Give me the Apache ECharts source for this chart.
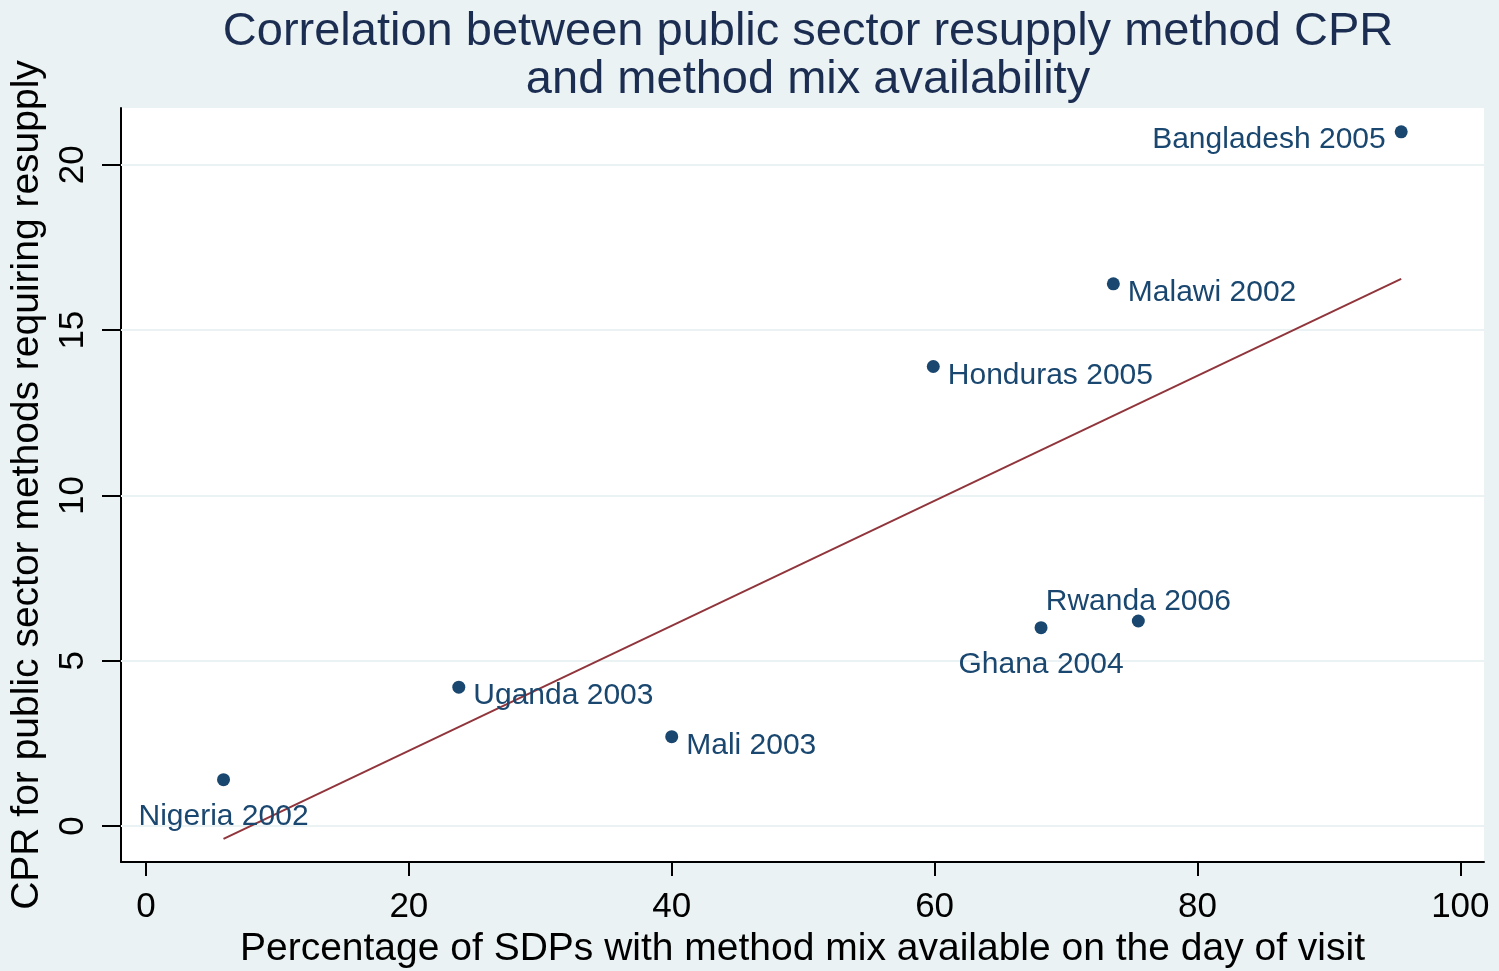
<!DOCTYPE html>
<html>
<head>
<meta charset="utf-8">
<script src="https://cdn.jsdelivr.net/npm/echarts@6/dist/echarts.min.js"></script>
<style>
  html, body { margin: 0; padding: 0; background: #eaf2f3; }
  #container { width: 1499px; height: 971px; }
</style>
</head>
<body>
<div id="container"></div>
<script>
var dom = document.getElementById("container");
var myChart = echarts.init(dom);

// survey points
var countries = ['Nigeria 2002', 'Uganda 2003', 'Mali 2003', 'Honduras 2005',
    'Ghana 2004', 'Rwanda 2006', 'Malawi 2002', 'Bangladesh 2005'];
var mixAvailable = [5.9, 23.8, 40.0, 59.9, 68.1, 75.5, 73.6, 95.5];
var cprResupply = [1.4, 4.2, 2.7, 13.9, 6.0, 6.2, 16.4, 21.0];

// fitted line end points
var fitX = [5.9, 95.5];
var fitY = [-0.39, 16.55];

var xTicks = [0, 20, 40, 60, 80, 100];
var yTicks = [0, 5, 10, 15, 20];

var dotColor = '#1a476f';
var font = 'Liberation Sans, Arial, sans-serif';

// where each label sits relative to its dot
var labelPlace = {
    'Nigeria 2002': { position: 'bottom', distance: 16, offset: [0, 0] },
    'Ghana 2004': { position: 'bottom', distance: 16, offset: [0, 0] },
    'Rwanda 2006': { position: 'top', distance: -2, offset: [0, 0] },
    'Bangladesh 2005': { position: 'left', distance: 9, offset: [0, 8] }
};

var points = countries.map(function (name, i) {
    var place = labelPlace[name] || { position: 'right', distance: 8, offset: [0, 9] };
    return {
        name: name,
        value: [mixAvailable[i], cprResupply[i]],
        label: place
    };
});

var fitLine = fitX.map(function (x, i) {
    return [x, fitY[i]];
});

option = {
    backgroundColor: '#eaf2f3',
    animation: false,
    title: {
        text: 'Correlation between public sector resupply method CPR\nand method mix availability',
        left: 803,
        textAlign: 'center',
        top: 3,
        textStyle: {
            color: '#1c2d52',
            fontFamily: font,
            fontWeight: 'normal',
            fontSize: 47,
            lineHeight: 48
        }
    },
    grid: {
        left: 121,
        right: 15,
        top: 108,
        bottom: 109,
        outerBoundsMode: 'none',
        containLabel: false,
        show: true,
        backgroundColor: '#ffffff',
        borderWidth: 0
    },
    xAxis: {
        type: 'value',
        min: -1.9,
        max: 101.8,
        name: 'Percentage of SDPs with method mix available on the day of visit',
        nameLocation: 'middle',
        nameGap: 62,
        nameTextStyle: { color: '#000', fontFamily: font, fontSize: 39 },
        axisLine: { show: true, onZero: false, lineStyle: { color: '#000', width: 2 } },
        axisTick: { show: true, customValues: xTicks, length: 14, lineStyle: { color: '#000', width: 2 } },
        axisLabel: { customValues: xTicks, margin: 28, color: '#000', fontFamily: font, fontSize: 35 },
        splitLine: { show: false }
    },
    yAxis: {
        type: 'value',
        min: -1.09,
        max: 21.72,
        name: 'CPR for public sector methods requiring resupply',
        nameLocation: 'middle',
        nameRotate: 90,
        nameGap: 74,
        nameTextStyle: { color: '#000', fontFamily: font, fontSize: 39 },
        axisLine: { show: true, onZero: false, lineStyle: { color: '#000', width: 2 } },
        axisTick: { show: true, customValues: yTicks, length: 19, lineStyle: { color: '#000', width: 2 } },
        axisLabel: { customValues: yTicks, rotate: 90, margin: 30, color: '#000', fontFamily: font, fontSize: 35 },
        splitLine: { show: false }
    },
    series: [{
        type: 'line',
        data: fitLine,
        symbol: 'none',
        silent: true,
        lineStyle: { color: '#90353b', width: 2 },
        z: 3,
        markLine: {
            silent: true,
            symbol: 'none',
            label: { show: false },
            lineStyle: { color: '#eaf2f3', width: 2, type: 'solid' },
            data: yTicks.map(function (v) { return { yAxis: v }; }),
            z: 1
        }
    }, {
        type: 'scatter',
        data: points,
        symbol: 'circle',
        symbolSize: 13,
        itemStyle: { color: dotColor, opacity: 1 },
        z: 4,
        label: {
            show: true,
            formatter: '{b}',
            color: dotColor,
            fontFamily: font,
            fontSize: 30
        }
    }]
};

myChart.setOption(option);
</script>
</body>
</html>
